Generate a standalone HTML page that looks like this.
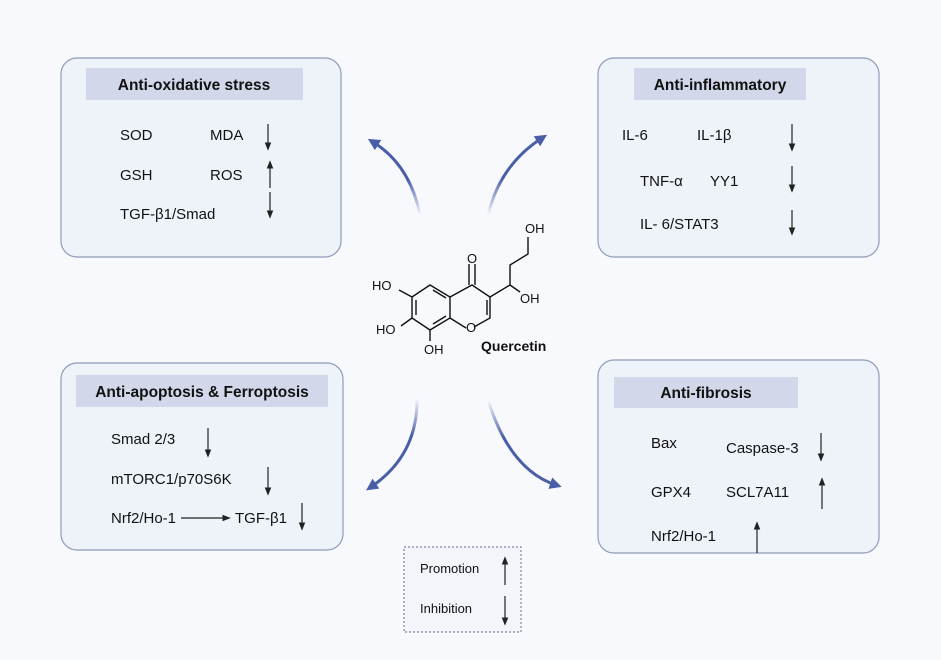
<!DOCTYPE html>
<html><head><meta charset="utf-8"><style>
html,body{margin:0;padding:0;background:#f7f9fd;}
svg{display:block;font-family:"Liberation Sans",sans-serif;}
</style></head><body>
<svg width="941" height="660" viewBox="0 0 941 660" xmlns="http://www.w3.org/2000/svg">
<defs>
<linearGradient id="g1" gradientUnits="userSpaceOnUse" x1="420" y1="215" x2="385" y2="150"><stop offset="0" stop-color="#4a5ea8" stop-opacity="0"/><stop offset="0.5" stop-color="#4a5ea8"/></linearGradient>
<linearGradient id="g2" gradientUnits="userSpaceOnUse" x1="488" y1="215" x2="530" y2="150"><stop offset="0" stop-color="#4a5ea8" stop-opacity="0"/><stop offset="0.5" stop-color="#4a5ea8"/></linearGradient>
<linearGradient id="g3" gradientUnits="userSpaceOnUse" x1="417" y1="398" x2="395" y2="470"><stop offset="0" stop-color="#4a5ea8" stop-opacity="0"/><stop offset="0.5" stop-color="#4a5ea8"/></linearGradient>
<linearGradient id="g4" gradientUnits="userSpaceOnUse" x1="488" y1="400" x2="530" y2="470"><stop offset="0" stop-color="#4a5ea8" stop-opacity="0"/><stop offset="0.5" stop-color="#4a5ea8"/></linearGradient>
<marker id="ah" viewBox="0 0 10 10" refX="5" refY="5" markerWidth="4" markerHeight="4" orient="auto"><path d="M0,0 L10,5 L0,10 z" fill="#4a5ea8"/></marker>
<marker id="sa" viewBox="0 0 10 10" refX="8" refY="5" markerWidth="7" markerHeight="7" orient="auto"><path d="M0,1 L10,5 L0,9 z" fill="#222"/></marker>
</defs>
<rect width="941" height="660" fill="#f7f9fd"/>
<!-- boxes -->
<g fill="#eef3fa" stroke="#8f9bb8" stroke-width="1.2">
<rect x="61" y="58" width="280" height="199" rx="16"/>
<rect x="598" y="58" width="281" height="199" rx="16"/>
<rect x="61" y="363" width="282" height="187" rx="16"/>
<rect x="598" y="360" width="281" height="193" rx="16"/>
</g>
<rect x="404" y="547" width="117" height="85" fill="#f3f5fa" stroke="#7a86a6" stroke-width="1.2" stroke-dasharray="2,2"/>
<g fill="#d2d8ea">
<rect x="86" y="68" width="217" height="32"/>
<rect x="634" y="68" width="172" height="32"/>
<rect x="76" y="375" width="252" height="32"/>
<rect x="614" y="377" width="184" height="31"/>
</g>
<g font-weight="bold" font-size="15.5" fill="#111" text-anchor="middle">
<text x="194" y="90">Anti-oxidative stress</text>
<text x="720" y="90">Anti-inflammatory</text>
<text x="202" y="397">Anti-apoptosis &amp; Ferroptosis</text>
<text x="706" y="398">Anti-fibrosis</text>
</g>
<g font-size="15" fill="#111">
<text x="120" y="140">SOD</text><text x="210" y="140">MDA</text>
<text x="120" y="180">GSH</text><text x="210" y="180">ROS</text>
<text x="120" y="219">TGF-β1/Smad</text>
<text x="622" y="140">IL-6</text><text x="697" y="140">IL-1β</text>
<text x="640" y="186">TNF-α</text><text x="710" y="186">YY1</text>
<text x="640" y="229">IL- 6/STAT3</text>
<text x="111" y="444">Smad 2/3</text>
<text x="111" y="484">mTORC1/p70S6K</text>
<text x="111" y="523">Nrf2/Ho-1</text><text x="235" y="523">TGF-β1</text>
<text x="651" y="448">Bax</text><text x="726" y="453">Caspase-3</text>
<text x="651" y="497">GPX4</text><text x="726" y="497">SCL7A11</text>
<text x="651" y="541">Nrf2/Ho-1</text>
<text x="420" y="573" font-size="13">Promotion</text>
<text x="420" y="613" font-size="13">Inhibition</text>
</g>
<!-- small arrows -->
<g stroke="#222" stroke-width="1.2" fill="none" marker-end="url(#sa)">
<line x1="268" y1="124" x2="268" y2="149"/>
<line x1="270" y1="188" x2="270" y2="162"/>
<line x1="270" y1="192" x2="270" y2="217"/>
<line x1="792" y1="124" x2="792" y2="150"/>
<line x1="792" y1="166" x2="792" y2="191"/>
<line x1="792" y1="210" x2="792" y2="234"/>
<line x1="208" y1="428" x2="208" y2="456"/>
<line x1="268" y1="467" x2="268" y2="494"/>
<line x1="181" y1="518" x2="229" y2="518"/>
<line x1="302" y1="503" x2="302" y2="529"/>
<line x1="821" y1="433" x2="821" y2="460"/>
<line x1="822" y1="509" x2="822" y2="479"/>
<line x1="757" y1="553" x2="757" y2="523"/>
<line x1="505" y1="585" x2="505" y2="558"/>
<line x1="505" y1="596" x2="505" y2="624"/>
</g>
<!-- curved arrows -->
<g fill="none" stroke-width="3" marker-end="url(#ah)">
<path d="M420,215 Q410,165 373,142" stroke="url(#g1)"/>
<path d="M488,215 Q500,165 542,138" stroke="url(#g2)"/>
<path d="M417,398 Q418,455 371,487" stroke="url(#g3)"/>
<path d="M488,400 Q510,470 556,485" stroke="url(#g4)"/>
</g>
<!-- molecule -->
<g stroke="#111" stroke-width="1.4" fill="none">
<path d="M430,285 L450,297 L450,318 L430,330 L412,318 L412,297 Z"/>
<path d="M433,290 L446,298 M446,316 L433,324 M416,300 L416,315"/>
<path d="M450,297 L472,285 L490,297 L490,318 L474,327 M466,328 L450,318"/>
<path d="M487,300 L487,315"/>
<path d="M469,285 L469,264 M475,285 L475,264"/>
<path d="M490,297 L510,285 L510,265 L528,254 L528,237"/>
<path d="M510,285 L520,292"/>
<path d="M412,297 L399,290 M412,318 L401,326 M430,330 L430,341"/>
</g>
<g font-size="13" fill="#111">
<text x="467" y="263">O</text>
<text x="466" y="332">O</text>
<text x="525" y="233">OH</text>
<text x="520" y="303">OH</text>
<text x="372" y="290">HO</text>
<text x="376" y="334">HO</text>
<text x="424" y="354">OH</text>
<text x="481" y="351" font-weight="bold" font-size="14">Quercetin</text>
</g>
</svg>
</body></html>
